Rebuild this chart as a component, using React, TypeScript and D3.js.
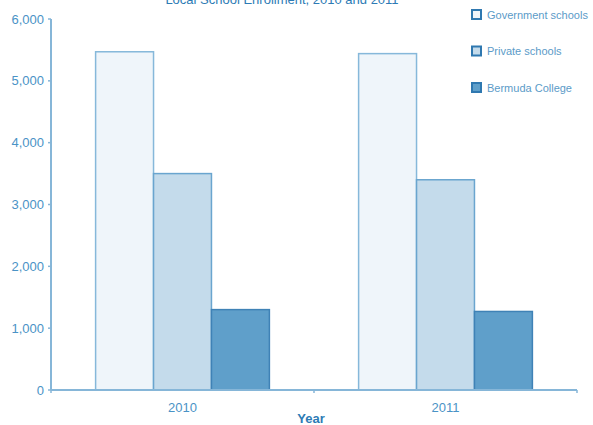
import React from 'react'
import * as d3 from 'd3'

const years = ['2010', '2011']
const seriesNames = ['Government schools', 'Private schools', 'Bermuda College']
const government = [5470, 5440]
const privateSchools = [3500, 3400]
const college = [1300, 1270]
const yTicks = [0, 1000, 2000, 3000, 4000, 5000, 6000]

const fills = ['#eff5fa', '#c4dbeb', '#5f9fca']
const strokes = ['#86b8da', '#6aa5cf', '#3f82b6']

const App: React.FunctionComponent = () => {
  const width = 593
  const height = 425
  const margin = { left: 51, right: 16, top: 19, bottom: 35 }
  const plotBottom = height - margin.bottom

  const x = d3
    .scaleBand()
    .domain(years)
    .range([margin.left, width - margin.right])

  const inner = d3
    .scaleBand()
    .domain(seriesNames)
    .range([0, x.bandwidth()])
    .paddingOuter(0.77)

  const y = d3.scaleLinear().domain([0, 6000]).range([plotBottom, margin.top])

  const values = [government, privateSchools, college]
  const axisColor = '#86b6d8'
  const font = 'Liberation Sans, Arial, sans-serif'

  return (
    <svg
      width={width}
      height={height}
      style={{ position: 'absolute', left: 0, top: 0 }}
      fontFamily={font}
    >
      <text x={282} y={4} textAnchor="middle" fontSize={13} fill="#2d7bb5">
        Local School Enrollment, 2010 and 2011
      </text>

      {years.map((year, i) =>
        seriesNames.map((name, s) => (
          <rect
            key={year + name}
            x={(x(year) ?? 0) + (inner(name) ?? 0)}
            y={y(values[s][i])}
            width={inner.bandwidth()}
            height={plotBottom - y(values[s][i])}
            fill={fills[s]}
            stroke={strokes[s]}
            strokeWidth={1.5}
          />
        ))
      )}

      {/* y axis */}
      <line x1={margin.left} x2={margin.left} y1={margin.top} y2={plotBottom} stroke={axisColor} strokeWidth={2} />
      {yTicks.map(t => (
        <g key={t}>
          <line x1={margin.left - 3} x2={margin.left} y1={y(t)} y2={y(t)} stroke={axisColor} strokeWidth={1.5} />
          <text x={44} y={y(t)} dy="0.35em" textAnchor="end" fontSize={13} fill="#4a93c6">
            {d3.format(',')(t)}
          </text>
        </g>
      ))}

      {/* x axis */}
      <line x1={margin.left} x2={width - margin.right} y1={plotBottom} y2={plotBottom} stroke={axisColor} strokeWidth={2} />
      {[...years.map(yr => x(yr) ?? 0), width - margin.right].map(px => (
        <line key={px} x1={px} x2={px} y1={plotBottom} y2={plotBottom + 3} stroke={axisColor} strokeWidth={1.5} />
      ))}
      {years.map(yr => (
        <text
          key={yr}
          x={(x(yr) ?? 0) + x.bandwidth() / 2}
          y={plotBottom + 22}
          textAnchor="middle"
          fontSize={13}
          fill="#4a93c6"
        >
          {yr}
        </text>
      ))}
      <text x={311} y={423} textAnchor="middle" fontSize={13} fontWeight="bold" fill="#2d7bb5">
        Year
      </text>

      {/* legend */}
      {seriesNames.map((name, s) => (
        <g key={name} transform={`translate(472, ${10 + s * 36.5})`}>
          <rect x={0} y={0} width={9} height={9} fill={fills[s]} stroke="#2f78b0" strokeWidth={2} />
          <text x={15} y={8.5} fontSize={11} fill="#5b9bc8">
            {name}
          </text>
        </g>
      ))}
    </svg>
  )
}

export default App
